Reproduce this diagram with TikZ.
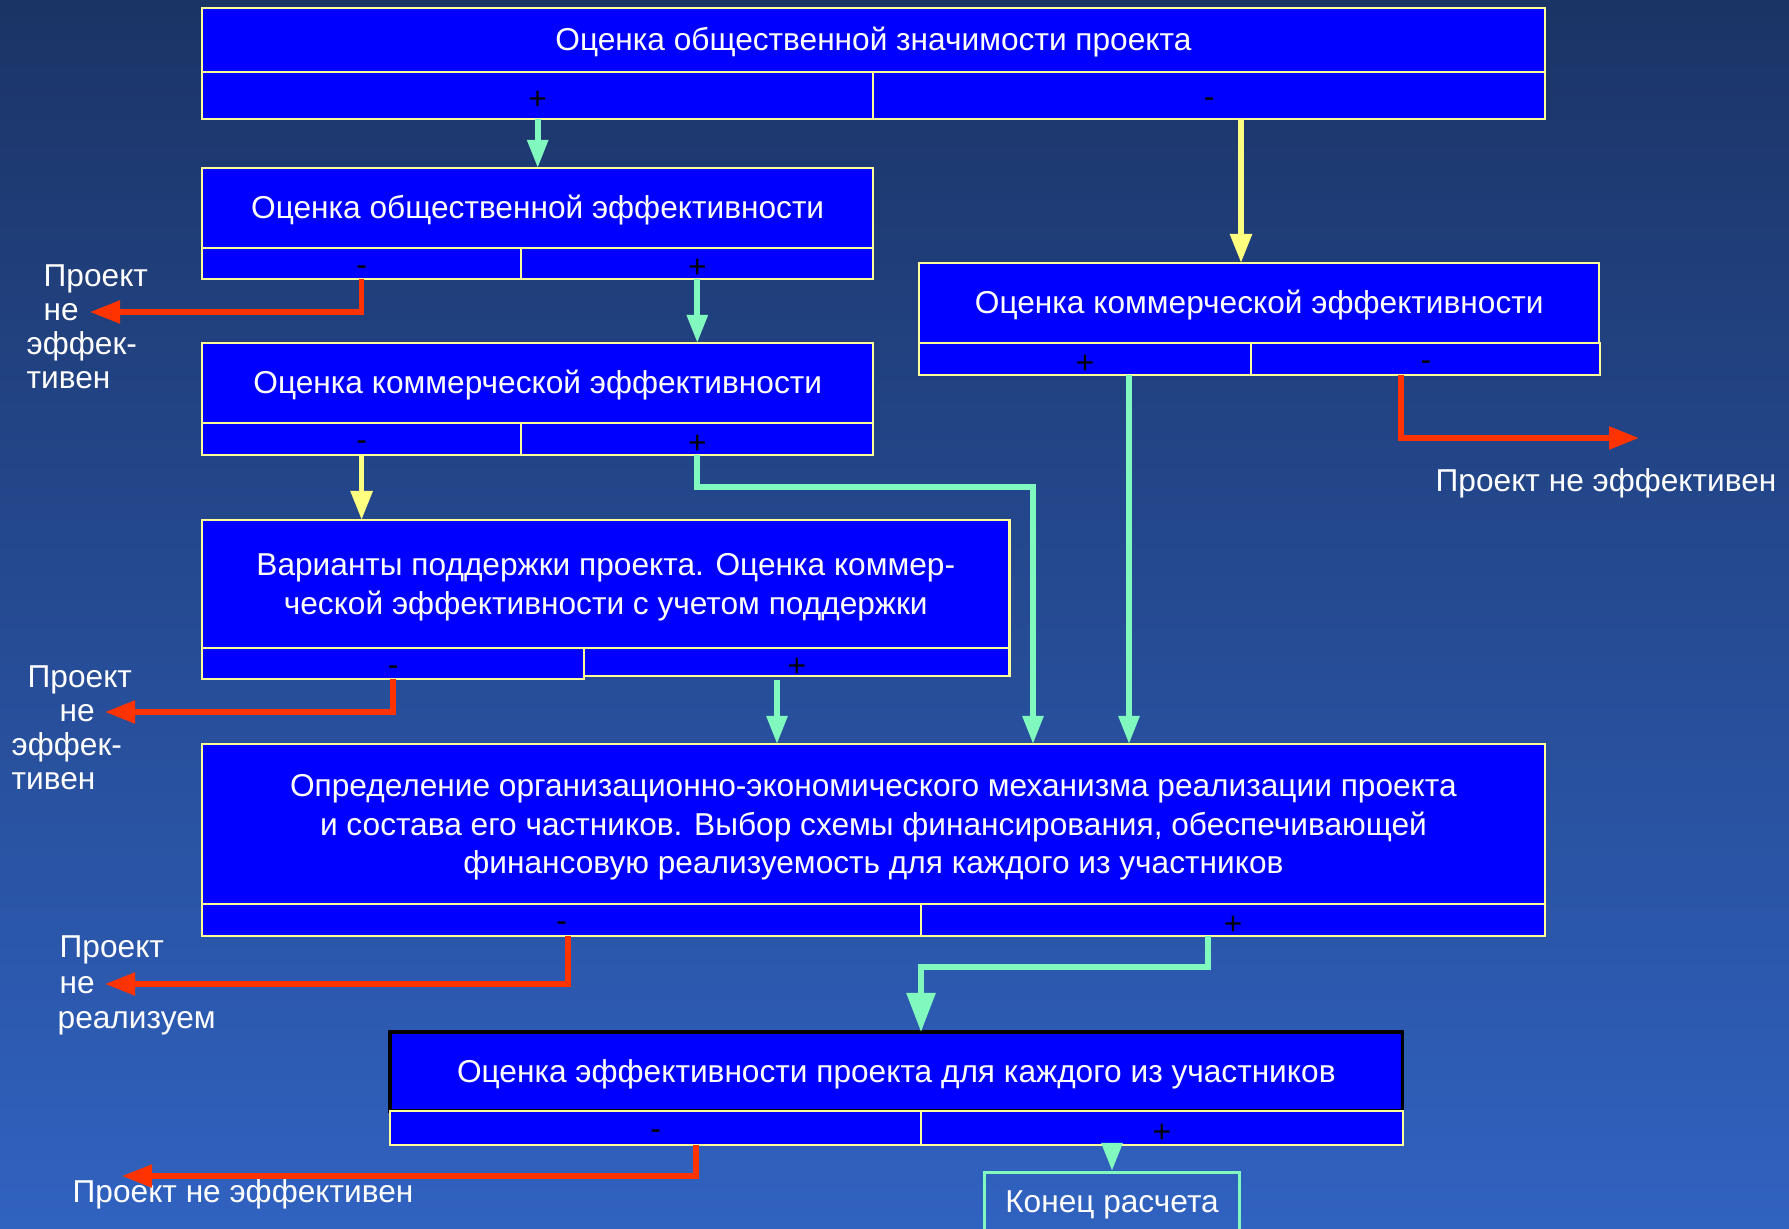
\documentclass[tikz,border=0pt]{standalone}
\usepackage{fontspec}
\setmainfont{Liberation Sans}
\usetikzlibrary{arrows.meta,positioning}
\definecolor{BgTop}{RGB}{27,52,102}
\definecolor{BgBot}{RGB}{48,98,192}
\definecolor{BoxBlue}{RGB}{0,0,255}
\definecolor{EdgeYel}{RGB}{255,255,153}
\definecolor{ArrGreen}{RGB}{128,248,190}
\definecolor{ArrYel}{RGB}{255,255,128}
\definecolor{ArrRed}{RGB}{255,51,0}
\newcommand\ppst{\rule[-0.212em]{0pt}{1.117em}}
\newcommand\cellp{\raisebox{-1.4pt}[\height][\depth]{+}}
\newcommand\cellm{\raisebox{-2pt}[\height][\depth]{-}}

\begin{document}
\begin{tikzpicture}[x=0.01cm,y=-0.01cm,
  every node/.style={font=\fontsize{9}{11}\selectfont},
  head/.style={draw=EdgeYel,fill=BoxBlue,text=white,line width=0.6pt,inner sep=0pt,outer sep=0pt,anchor=north west,align=center},
  cell/.style={draw=EdgeYel,fill=BoxBlue,text=black,line width=0.6pt,inner sep=0pt,outer sep=0pt,anchor=north west},
  note/.style={text=white,inner sep=0pt,align=left,font=\fontsize{9}{9.7}\selectfont},
  ga/.style={draw=ArrGreen,line width=1.6pt,-{Triangle[length=0.28cm,width=0.2cm]}},
  gb/.style={draw=ArrGreen,line width=1.6pt,-{Triangle[length=0.39cm,width=0.28cm]}},
  ya/.style={draw=ArrYel,line width=1.6pt,-{Triangle[length=0.29cm,width=0.21cm]}},
  ra/.style={draw=ArrRed,line width=1.5pt,-{Triangle[length=0.3cm,width=0.22cm]}}]
\useasboundingbox (0,0) rectangle (1789,1228);
\shade[top color=BgTop,bottom color=BgBot] (0,0) rectangle (1789,1228);
\clip (0,0) rectangle (1789,1228);
% significance
\node[head,minimum width=13.42cm,minimum height=0.64cm] (sig) at (202,8) {\ppst Оценка общественной значимости проекта};
\node[cell,minimum width=6.71cm,minimum height=0.47cm] (sigp) at (sig.south west) {\cellp};
\node[cell,minimum width=6.71cm,minimum height=0.47cm] (sigm) at (sigp.north east) {\cellm};
% social efficiency
\node[head,minimum width=6.71cm,minimum height=0.80cm] (seff) at (202,168) {\ppst Оценка общественной эффективности};
\node[cell,minimum width=3.19cm,minimum height=0.31cm] (seffm) at (seff.south west) {\cellm};
\node[cell,minimum width=3.52cm,minimum height=0.31cm] (seffp) at (seffm.north east) {\cellp};
% commercial efficiency, left
\node[head,minimum width=6.71cm,minimum height=0.80cm] (ceff) at (202,343) {\ppst Оценка коммерческой эффективности};
\node[cell,minimum width=3.19cm,minimum height=0.32cm] (ceffm) at (ceff.south west) {\cellm};
\node[cell,minimum width=3.52cm,minimum height=0.32cm] (ceffp) at (ceffm.north east) {\cellp};
% commercial efficiency, right
\node[head,minimum width=6.80cm,minimum height=0.80cm] (crt) at (919,263) {\ppst Оценка коммерческой эффективности};
\node[cell,minimum width=3.32cm,minimum height=0.32cm] (crtp) at (crt.south west) {\cellp};
\node[cell,minimum width=3.49cm,minimum height=0.32cm] (crtm) at (crtp.north east) {\cellm};
% support
\node[head,minimum width=8.07cm,minimum height=1.28cm] (supp) at (202,520) {\ppst Варианты поддержки проекта. Оценка коммер-\\\ppst ческой эффективности с учетом поддержки};
\node[cell,minimum width=3.82cm,minimum height=0.31cm] (suppm) at (supp.south west) {\cellm};
\node[cell,minimum width=4.25cm,minimum height=0.28cm] (suppp) at (suppm.north east) {\cellp};
% mechanism
\node[head,minimum width=13.42cm,minimum height=1.60cm] (mech) at (202,744) {\ppst Определение организационно-экономического механизма реализации проекта\\и состава его частников. Выбор схемы финансирования, обеспечивающей\\\ppst финансовую реализуемость для каждого из участников};
\node[cell,minimum width=7.19cm,minimum height=0.32cm] (mechm) at (mech.south west) {\cellm};
\node[cell,minimum width=6.23cm,minimum height=0.32cm] (mechp) at (mechm.north east) {\cellp};
% participants
\node[head,draw=black,line width=1pt,minimum width=10.12cm,minimum height=0.79cm] (part) at (390,1032) {\ppst Оценка эффективности проекта для каждого из участников};
\node[cell,minimum width=5.31cm,minimum height=0.34cm] (partm) at (part.south west) {\cellm};
\node[cell,minimum width=4.81cm,minimum height=0.34cm] (partp) at (partm.north east) {\cellp};
% end
\node[draw=ArrGreen,line width=0.8pt,text=white,anchor=north,minimum width=2.55cm,text depth=0.3cm] (fin) at (1112,1171) {\ppst Конец расчета};
% labels
\node[note,anchor=north west] (n1) at (26,264) {\hspace*{0.17cm}Проект\\\hspace*{0.17cm}не\\эффек-\\тивен};
\node[note,anchor=north west] (n2) at (11,665) {\hspace*{0.16cm}Проект\\\hspace*{0.48cm}не\\эффек-\\тивен};
\node[note,anchor=north west,font=\fontsize{9}{10.1}\selectfont] (n3) at (57,935) {\hspace*{0.02cm}Проект\\\hspace*{0.02cm}не\\реализуем};
\node[note,anchor=west] (n4) at (72,1194) {Проект не эффективен};
\node[note,anchor=west] (n5) at (1435,483) {Проект не эффективен};
% bends and offsets
\coordinate (s1) at (1241,119);\coordinate (s2) at (1129,376);\coordinate (s3) at (1401,376);
\coordinate (s4) at (777,680);\coordinate (s5) at (568,936);\coordinate (s6) at (1208,936);
\coordinate (s7) at (696,1145);\coordinate (k1) at (1033,487);\coordinate (k2) at (921,967);
\coordinate (r1) at (90,312);\coordinate (r2) at (1639,438);\coordinate (r3) at (105,712);
\coordinate (r4) at (105,984);\coordinate (r5) at (122,1176);
% connectors
\draw[ga] (sigp.south) -- (seff.north);
\draw[ya] (s1 |- sigm.south) -- (s1 |- crt.north);
\draw[ra] (seffm.south) |- (r1);
\draw[ga] (seffp.south) -- (seffp.south |- ceff.north);
\draw[ya] (ceffm.south) -- (ceffm.south |- supp.north);
\draw[ga] (ceffp.south) |- (k1) -- (k1 |- mech.north);
\draw[ga] (s2 |- crtp.south) -- (s2 |- mech.north);
\draw[ra] (s3 |- crtm.south) |- (r2);
\draw[ra] (suppm.south) |- (r3);
\draw[ga] (s4) -- (s4 |- mech.north);
\draw[ra] (s5 |- mechm.south) |- (r4);
\draw[gb] (s6 |- mechp.south) |- (k2) -- (k2 |- part.north);
\draw[ra] (s7 |- partm.south) |- (r5);
\draw[ga] (partp.south -| fin.north) -- (fin.north);
\end{tikzpicture}
\end{document}
